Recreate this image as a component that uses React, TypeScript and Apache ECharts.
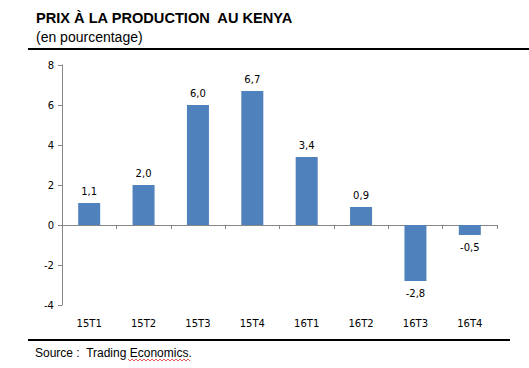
import React, { useEffect, useRef } from "react";
import * as echarts from "echarts";

const categories = ["15T1", "15T2", "15T3", "15T4", "16T1", "16T2", "16T3", "16T4"];
const values = [1.1, 2.0, 6.0, 6.7, 3.4, 0.9, -2.8, -0.5];
const yTicks = [-4, -2, 0, 2, 4, 6, 8];

const TITLE = "PRIX À LA PRODUCTION  AU KENYA";
const SUBTITLE = "(en pourcentage)";
const SOURCE = "Source :  Trading Economics.";

export default function App() {
  const ref = useRef<HTMLDivElement>(null);
  useEffect(() => {
    document.body.style.margin = "0";
    const chart = echarts.init(ref.current!, null, { renderer: "svg" });
    const axisColor = "#868686";
    const font = "DejaVu Sans";
    const squiggle: number[][] = [];
    for (let x = 128; x <= 190; x += 2) squiggle.push([x, x % 4 === 0 ? 359 : 361]);
    chart.setOption({
      animation: false,
      backgroundColor: "#ffffff",
      grid: { left: 62, right: 32, top: 65, bottom: 63 },
      xAxis: [
        {
          type: "category",
          data: categories,
          axisLine: { onZero: true, lineStyle: { color: axisColor, width: 1 } },
          axisTick: { show: true, inside: false, length: 4, lineStyle: { color: axisColor } },
          axisLabel: { show: false },
        },
        {
          type: "category",
          data: categories,
          position: "bottom",
          axisLine: { show: false, onZero: false },
          axisTick: { show: false },
          axisLabel: { show: true, color: "#000", fontFamily: font, fontSize: 10, margin: 13 },
        },
      ],
      yAxis: {
        type: "value",
        min: yTicks[0],
        max: yTicks[yTicks.length - 1],
        interval: 2,
        splitLine: { show: false },
        axisLine: { show: true, lineStyle: { color: axisColor } },
        axisTick: { show: true, length: 4, lineStyle: { color: axisColor } },
        axisLabel: { color: "#000", fontFamily: font, fontSize: 10, margin: 8 },
      },
      series: [
        {
          type: "bar",
          xAxisIndex: 0,
          data: values.map((v) => ({
            value: v,
            label: { position: v >= 0 ? "top" : "bottom" },
          })),
          barWidth: 22,
          itemStyle: { color: "#4F81BD" },
          label: {
            show: true,
            distance: 7,
            color: "#000",
            fontFamily: font,
            fontSize: 10,
            formatter: (p: any) => Number(p.value).toFixed(1).replace(".", ","),
          },
        },
      ],
      graphic: [
        {
          type: "text",
          left: 36,
          top: 10,
          style: { text: TITLE, fontFamily: "Liberation Sans", fontWeight: "bold", fontSize: 14.6, fill: "#000" },
        },
        {
          type: "text",
          left: 36,
          top: 30,
          style: { text: SUBTITLE, fontFamily: "Liberation Sans", fontSize: 14, fill: "#000" },
        },
        {
          type: "line",
          shape: { x1: 28, y1: 49, x2: 529, y2: 49 },
          style: { stroke: "#000", lineWidth: 2 },
        },
        {
          type: "line",
          shape: { x1: 28, y1: 340, x2: 510, y2: 340 },
          style: { stroke: "#000", lineWidth: 2 },
        },
        {
          type: "text",
          left: 35,
          top: 347,
          style: { text: SOURCE, fontFamily: "Liberation Sans", fontSize: 12, fill: "#000" },
        },
        {
          type: "polyline",
          shape: { points: squiggle },
          style: { stroke: "#e03030", lineWidth: 0.8, fill: null },
        },
      ],
    });
    return () => chart.dispose();
  }, []);
  return <div ref={ref} style={{ width: 529, height: 368, position: "absolute", left: 0, top: 0 }} />;
}
